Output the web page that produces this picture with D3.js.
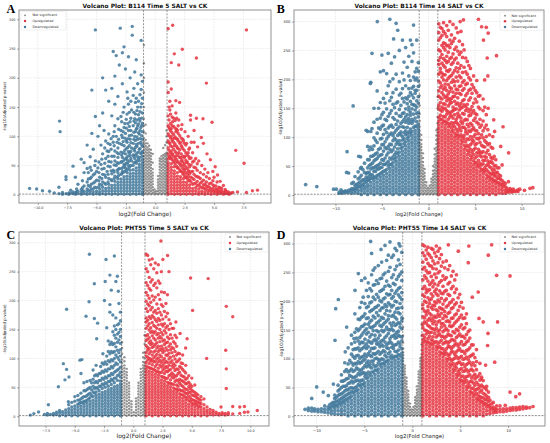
<!DOCTYPE html>
<html>
<head>
<meta charset="utf-8">
<title>Volcano plots</title>
<script src="https://d3js.org/d3.v7.min.js"></script>
<style>
  html, body { margin: 0; padding: 0; background: #fff; }
  svg { display: block; font-family: "DejaVu Sans", sans-serif; }
</style>
</head>
<body>
<svg id="fig" width="550" height="443"></svg>
<script>

// ---- data: each entry is [log2FC, [ -log10 padj values ... ]] ----

var titles = [
  "Volcano Plot: B114 Time 5 SALT vs CK",
  "Volcano Plot: B114 Time 14 SALT vs CK",
  "Volcano Plot: PHT55 Time 5 SALT vs CK",
  "Volcano Plot: PHT55 Time 14 SALT vs CK"
];
var letters = ["A", "B", "C", "D"];
var legendLabels = ["Not significant", "Upregulated", "Downregulated"];
var yTicks = [0, 50, 100, 150, 200, 250, 300];
var xTicksA = [-10, -7.5, -5, -2.5, 0, 2.5, 5, 7.5];
var xTicksB = [-10, -5, 0, 5, 10];
var xTicksC = [-7.5, -5, -2.5, 0, 2.5, 5, 7.5, 10];
var xTicksD = [-10, -5, 0, 5, 10];

var aNs = [
[-0.97,[1,6,11,16,21,26,31,36,41,46,51,56,61,66,71,76,81,86,91,97,108,118,130,150,175,200,225,256]],
[-0.82,[3,8,13,18,23,28,33,38,43,48,53,58,63,68,73,78,83,88,94,105,120]],
[-0.67,[1,6,11,16,21,26,31,36,41,46,51,56,61,66,71,76,81,88]],
[-0.52,[3,8,13,18,23,28,33,38,43,48,53,58,63,68,73,78,84]],
[-0.37,[1,6,11,16,21,26,31,36,41,46,51,56,61,66,71,77]],
[-0.22,[3,8,13,18,23,28,33,38,44,55,70]],
[-0.07,[1,5,9]],
[0.08,[2,6]],
[0.23,[1,6,11,16,21,26,32]],
[0.38,[3,8,13,18,23,28,33,38,43,48,53,58,62]],
[0.53,[1,6,11,16,21,26,31,36,41,46,51,56,61,66]],
[0.68,[3,8,13,18,23,28,33,38,43,48,53,58,63,68,80]],
[0.83,[1,6,11,16,21,26,31,36,41,46,51,56,61,66,70,85]],
[0.96,[3,8,13,18,23,28,33,38,43,48,53,58,63,68,72,90,100,110]]
];
var aUp = [
[1.1,[1,5,10,15,20,25,30,35,40,45,50,55,61,70,80,92,104,118,135,175,193,284]],
[1.17,[65,76,89,101,115,128,150]],
[1.24,[66,88,112,145,160]],
[1.3,[63,72,84,97,109,122,138]],
[1.36,[2,7,12,17,22,27,32,37,42,47,53,62,75,100,113,181,226]],
[1.43,[60,69,82,92,106,118,133,152]],
[1.48,[70,95,125,290]],
[1.56,[56,66,78,90,103,117,131]],
[1.62,[1,6,11,16,21,26,31,36,41,48,58,84,97,241]],
[1.69,[53,62,74,87,99,114,127]],
[1.75,[66,108,140,161]],
[1.82,[49,60,71,83,96,112,131]],
[1.88,[2,7,12,17,22,27,32,38,46,56,80,95,110]],
[1.95,[46,56,67,79,92,105,118]],
[2.0,[72,128,222]],
[2.07,[158]],
[2.08,[43,53,64,77,88,101]],
[2.14,[1,6,11,16,21,26,31,40,52,64,90]],
[2.21,[40,49,58,70,84,97,112]],
[2.27,[60,82,120]],
[2.3,[249]],
[2.34,[36,45,56,66,79,95]],
[2.4,[2,7,12,17,22,28,38,50,92]],
[2.47,[33,42,53,64,76,88]],
[2.53,[44,66,108]],
[2.6,[30,38,48,59,72,85]],
[2.66,[1,6,11,16,21,30,55,88]],
[2.73,[27,35,45,56,68]],
[2.8,[40,72,100]],
[2.86,[24,31,41,52,65,78]],
[2.92,[2,7,12,17,25,36,48,62,80]],
[3.0,[128,136]],
[3.05,[22,30,39,51,63]],
[3.07,[90]],
[3.18,[1,6,11,18,28,40,56,72]],
[3.3,[19,26,35,47,58,90,110]],
[3.44,[2,7,12,20,32,46,62]],
[3.5,[131,234]],
[3.57,[16,23,31,42,53]],
[3.6,[82]],
[3.7,[1,5,10,17,30,58]],
[3.83,[14,20,28,38]],
[3.92,[98]],
[3.96,[2,6,12,22,50]],
[4.06,[130]],
[4.1,[12,17,25,35,88]],
[4.22,[1,5,10,18,44]],
[4.35,[10,15,22,31,191]],
[4.4,[70]],
[4.48,[2,6,14,38]],
[4.6,[8,13,19,28]],
[4.69,[60]],
[4.74,[1,5,10,20]],
[4.83,[124]],
[4.9,[7,11,17,24,40]],
[5.0,[2,6,15,30]],
[5.1,[48]],
[5.15,[6,10,15]],
[5.26,[1,4,9,22]],
[5.3,[34]],
[5.4,[5,8,13]],
[5.52,[2,5,12,23]],
[5.65,[4,7,11]],
[5.8,[1,4,16]],
[5.95,[3,6,9]],
[6.04,[2,6]],
[6.2,[2,5]],
[6.3,[1,3]],
[6.45,[3]],
[6.6,[4]],
[6.85,[76]],
[7.0,[5]],
[7.56,[54]],
[7.76,[4,282]],
[8.27,[7]],
[8.7,[8]]
];
var aDown = [
[-1.1,[1,5,10,15,20,25,30,35,40,45,50,55,60,66,74,83,95,108,122,140,165,194]],
[-1.16,[72,86,101,118,131,156]],
[-1.2,[180,205,264]],
[-1.23,[70,90,115,150]],
[-1.3,[64,79,96,110,126,142,171]],
[-1.36,[2,7,12,17,22,27,32,37,42,47,52,58,78,104,130]],
[-1.43,[61,73,88,106,121,137,160]],
[-1.5,[65,95,118,150,190]],
[-1.56,[58,71,83,99,114,128,144]],
[-1.62,[1,6,11,16,21,26,31,36,41,46,54,86,112,165,231]],
[-1.69,[56,68,81,93,108,123,138,158]],
[-1.75,[62,75,100,130,210]],
[-1.82,[55,66,78,95,107,126,141,182]],
[-1.88,[2,7,12,17,22,27,32,37,43,50,68,88,118,170]],
[-1.96,[273,288]],
[-2.02,[58,80,102,145]],
[-2.08,[50,62,74,89,110,131,160]],
[-2.14,[1,6,11,16,21,26,31,36,42,67,95,125,200]],
[-2.21,[47,58,71,84,101,117,141]],
[-2.28,[50,74,110,155,236]],
[-2.34,[44,55,66,81,96,122,165]],
[-2.4,[2,7,12,17,22,27,32,38,60,90,138,176]],
[-2.47,[42,54,63,79,93,114,129]],
[-2.54,[46,70,105,215]],
[-2.6,[40,50,61,76,97,122]],
[-2.66,[1,6,11,16,21,26,31,52,84,115,150,253]],
[-2.73,[38,47,58,72,91,108,141]],
[-2.8,[40,64,98,190,243]],
[-2.86,[36,45,56,68,86,102,125]],
[-2.92,[2,7,12,17,22,27,35,56,73,110,134]],
[-2.98,[285]],
[-3.06,[45,88,222]],
[-3.12,[33,44,54,70,95,112]],
[-3.18,[1,6,11,16,21,27,38,64,80,130,168]],
[-3.25,[30,42,55,72,90]],
[-3.32,[50,100,238]],
[-3.44,[2,7,12,17,23,32,58,75,118,155,203]],
[-3.5,[28,39,51,66,84,108]],
[-3.58,[42,90,100,245]],
[-3.7,[1,6,11,16,24,36,66,135,182]],
[-3.76,[26,41,56,78,96]],
[-3.84,[48,86]],
[-3.96,[2,7,12,18,28,57,74,104,160]],
[-4.02,[22,35,49,66,88]],
[-4.1,[40,75]],
[-4.22,[1,6,11,18,30,62,92,179]],
[-4.3,[20,34,54,80]],
[-4.36,[45,110]],
[-4.48,[2,7,13,22,35,70,140,200]],
[-4.55,[17,28,44,61]],
[-4.62,[52,85]],
[-4.74,[1,5,10,18,30,118]],
[-4.8,[14,24,38,56]],
[-4.88,[46,100]],
[-5.0,[2,6,12,25,40]],
[-5.1,[58,134,282]],
[-5.15,[13,22,36,50]],
[-5.28,[1,5,10,20,34,78]],
[-5.4,[105,179]],
[-5.45,[10,18,30,42]],
[-5.54,[2,6,14,28,47,65]],
[-5.7,[8,16,27,38]],
[-5.8,[1,5,10,22,45,85]],
[-6.06,[2,6,15,38,55]],
[-6.2,[7,12,24]],
[-6.3,[1,4,9,61]],
[-6.58,[2,6,18]],
[-6.7,[5,10]],
[-6.8,[1,4,30]],
[-7.0,[2,5,49]],
[-7.2,[3,8]],
[-7.36,[1,3]],
[-7.6,[2,26,31]],
[-7.9,[1,4]],
[-8.1,[108]],
[-8.15,[126]],
[-8.2,[2,13]],
[-8.6,[3]],
[-9.0,[6]],
[-9.6,[7]],
[-10.1,[10]],
[-10.7,[11]]
];

var bNs = [
[-0.96,[1,6,11,16,21,26,31,36,41,46,51,56,61,66,71,76,81,86,91,96,101,106,111,118,128,140,155,172,190]],
[-0.78,[3,8,13,18,23,28,33,38,43,48,53,58,63,68,73,78,83,88,95,104]],
[-0.6,[1,6,11,16,21,26,31,36,41,46,51,57,64,72]],
[-0.42,[3,8,13,18,23,28,33,38,45]],
[-0.24,[1,6,11,16,22]],
[-0.06,[3,8,12]],
[0.12,[1,6,11,16]],
[0.3,[3,8,13,18,23,28]],
[0.48,[1,6,11,16,21,26,31,36,42,50]],
[0.66,[3,8,13,18,23,28,33,38,43,48,53,58,63,70,80]],
[0.84,[1,6,11,16,21,26,31,36,41,46,51,56,61,66,71,76,82,88,95,103,112]],
[0.97,[3,8,13,18,23,28,33,38,43,48,53,58,63,68,73,78,83,88,93,98,103,108,115,124,135,150,170]]
];
var bUp = [
[1.1,[1,7,13,19,25,31,37,43,49,55,61,67,73,79,85,91,97,103,109,115,121,127,134,149,155,171,180,197,209,226,233,251,268,281,296]],
[1.27,[131,138,147,160,168,186,194,213,219,238,249,272,290]],
[1.44,[4,10,16,22,28,34,40,46,52,58,64,70,76,82,88,94,100,106,112,118,124,131,145,152,166,177,189,204,211,228,243,259,276,288]],
[1.61,[127,136,149,158,173,183,199,208,224,236,255,263,283,298]],
[1.78,[1,7,13,19,25,31,37,43,49,55,61,67,73,79,85,91,97,103,109,115,121,128,135,150,157,169,186,192,208,221,233,251,262,279]],
[1.95,[125,140,146,163,171,181,198,215,229,240,258,274,293]],
[2.12,[4,10,16,22,28,34,40,46,52,58,64,70,76,82,88,94,100,106,112,118,124,131,144,154,167,175,191,202,214,231,247,259,285]],
[2.29,[121,135,141,158,164,179,186,205,217,236,255,268,300]],
[2.46,[1,7,13,19,25,31,37,43,49,55,61,67,73,79,85,91,97,103,109,116,125,137,144,160,167,184,195,207,226,238,262,277]],
[2.63,[112,121,133,146,152,170,178,199,211,229,244,266,295]],
[2.8,[4,10,16,22,28,34,40,46,52,58,64,70,76,82,88,94,100,107,118,125,139,148,162,171,189,196,215,234,252,271]],
[2.97,[103,114,126,131,149,157,176,183,204,220,237,256,289]],
[3.14,[1,7,13,19,25,31,37,43,49,55,61,67,73,79,85,91,97,104,110,123,135,141,159,168,182,197,213,228,249,281]],
[3.31,[101,115,120,137,147,154,176,188,206,219,243,266]],
[3.4,[300]],
[3.48,[4,10,16,22,28,34,40,46,52,58,64,70,76,82,88,95,104,111,127,133,150,158,174,189,203,224,247,283]],
[3.65,[92,100,117,124,141,152,163,181,195,212,238,260]],
[3.75,[303]],
[3.82,[1,7,13,19,25,31,37,43,49,55,61,67,73,79,86,97,103,117,129,140,156,165,184,198,221,251]],
[3.99,[83,92,109,114,131,146,153,172,191,213,237]],
[4.16,[4,10,16,22,28,34,40,46,52,58,64,70,77,86,97,106,122,130,149,157,176,193,209,231]],
[4.33,[74,83,96,111,118,137,144,164,181,203,224]],
[4.5,[1,7,13,19,25,31,37,43,49,55,61,68,79,87,101,110,124,138,148,168,183,199,219]],
[4.67,[65,74,90,96,113,121,142,153,176,191]],
[4.84,[4,10,16,22,28,34,40,46,52,59,70,78,93,101,116,129,146,159,186,206]],
[5.01,[56,64,81,87,105,112,133,141,166,181]],
[5.18,[1,7,13,19,25,31,37,43,49,55,67,73,89,98,111,126,139,161,177,198]],
[5.36,[51,60,73,79,97,106,123,152,171,304]],
[5.52,[4,10,16,22,28,34,40,47,55,68,75,91,99,117,131,149,172]],
[5.7,[44,52,66,73,86,104,121,291]],
[5.86,[1,7,13,19,25,31,37,43,54,60,75,84,99,111,128,146,166]],
[5.9,[268]],
[6.03,[41,47,60,67,83,94,116,152,199]],
[6.2,[4,10,16,22,28,35,44,51,65,73,91,101,121,139,290]],
[6.3,[237]],
[6.37,[32,41,53,59,77,87,113,206]],
[6.4,[150,280]],
[6.54,[1,7,13,19,25,31,38,49,56,70,89,104]],
[6.71,[29,36,47,58,65,83]],
[6.88,[4,10,16,22,27,37,43,55,63,81]],
[6.9,[101]],
[7.0,[37,130]],
[7.05,[25,33,44,50,67]],
[7.1,[110]],
[7.22,[1,7,13,19,24,33,39,51,61]],
[7.3,[241]],
[7.39,[22,29,39,47]],
[7.56,[4,10,16,21,29,35,47]],
[7.73,[19,27,33]],
[7.75,[84]],
[7.9,[3,8,13,18,25,52]],
[8.0,[118]],
[8.07,[16,22]],
[8.24,[3,8,14,20]],
[8.41,[6,12]],
[8.58,[5,9,23]],
[8.6,[73]],
[8.75,[7,11]],
[8.92,[5,9]],
[9.1,[6,10]],
[9.26,[6]],
[9.43,[7]],
[9.6,[6,9]],
[9.8,[10]],
[10.3,[8]],
[10.9,[11.5]],
[11.2,[12.7]]
];
var bDown = [
[-1.1,[1,7,13,19,25,31,37,43,49,55,61,67,73,79,85,91,97,103,109,115,122,135,143,159,170,188,197,214,229]],
[-1.27,[119,127,141,152,163,181,202,219,268]],
[-1.44,[4,10,16,22,28,34,40,46,52,58,64,70,76,82,88,94,100,106,112,119,133,147,155,176,181,199,213]],
[-1.61,[117,128,140,156,168,188,204,246,294]],
[-1.78,[1,7,13,19,25,31,37,43,49,55,61,67,73,79,85,91,97,103,110,124,131,149,157,173,185,231,260]],
[-1.95,[107,114,127,138,143,162,177,198,268]],
[-2.12,[4,10,16,22,28,34,40,46,52,58,64,70,76,82,88,94,101,109,124,132,147,152,171,184,206,240]],
[-2.29,[98,106,117,129,139,158,166,221]],
[-2.46,[1,7,13,19,25,31,37,43,49,55,61,67,73,79,85,92,104,111,126,135,149,168,189,255]],
[-2.63,[89,97,108,117,131,142,161,199,230]],
[-2.8,[4,10,16,22,28,34,40,46,52,58,64,70,76,83,95,101,118,127,141,167,184,211,268]],
[-2.97,[81,88,104,109,124,136,155,176]],
[-3.14,[1,7,13,19,25,31,37,43,49,55,61,67,74,87,94,106,118,137,148,173,196,250]],
[-3.31,[71,80,91,103,115,128,161,285]],
[-3.48,[4,10,16,22,28,34,40,46,52,58,65,74,88,95,112,122,141,159,183,209,297]],
[-3.65,[62,70,83,98,108,131,151,239]],
[-3.75,[270]],
[-3.82,[1,7,13,19,25,31,37,43,49,56,66,78,94,103,117,134,157,177,201]],
[-3.99,[53,62,75,87,107,121,146,169,228]],
[-4.16,[4,10,16,22,28,34,40,46,53,64,79,88,105,119,141,163,196,304]],
[-4.33,[50,58,73,84,101,116,136,189,245]],
[-4.5,[1,7,13,19,25,31,37,44,55,69,80,97,108,129,149,176,210]],
[-4.67,[42,53,64,82,92,113,131,159]],
[-4.84,[4,10,16,22,28,34,41,53,60,76,87,105,121,143,167,215]],
[-5.01,[39,48,61,70,87,98,119,139,242]],
[-5.18,[1,7,13,19,25,31,37,47,55,69,81,97,114,133,160,213]],
[-5.36,[35,45,52,67,79,116,150]],
[-5.5,[300]],
[-5.52,[4,10,16,22,28,34,45,51,63,73,91,107,131,180]],
[-5.7,[31,41,49,61,71,95]],
[-5.86,[1,7,13,19,25,31,41,47,59,69,85,99,126,150]],
[-6.03,[29,35,47,55,67,79]],
[-6.07,[115,245]],
[-6.2,[4,10,16,22,29,35,45,53,67,83,110,195]],
[-6.25,[193]],
[-6.37,[26,33,39,51,61,78]],
[-6.54,[1,7,13,18,25,29,39,47,61,84,110]],
[-6.7,[23,31,37,112]],
[-6.88,[4,10,15,21,27,39,55]],
[-7.05,[18,26,44]],
[-7.22,[1,7,12,17,24,34,48]],
[-7.3,[46,66]],
[-7.39,[15,22,30]],
[-7.5,[67]],
[-7.56,[3,8,14,20,28,40]],
[-7.73,[12,18]],
[-7.9,[4,8,12,17,32]],
[-8.07,[10,22]],
[-8.1,[154]],
[-8.24,[3,7,11,20]],
[-8.41,[9]],
[-8.58,[4,8,38]],
[-8.75,[6,75]],
[-8.8,[39]],
[-8.92,[4,7]],
[-9.1,[6]],
[-9.26,[3,6]],
[-9.4,[5,9]],
[-9.6,[3,5]],
[-9.9,[10]],
[-10.2,[10]],
[-12,[14.5]],
[-13.2,[18]]
];

var cNs = [
[-0.96,[1,6,11,16,21,26,31,36,41,46,51,56,61,66,71,76,81,86,92,98,108,118,128]],
[-0.76,[3,8,13,18,23,28,33,38,43,48,53,58,63,68,73,78,83,88,95,102]],
[-0.56,[1,6,11,16,21,26,31,36,41,46,51,56,61,66,71,76,82]],
[-0.36,[3,8,13,18,23,28,33,38,43,48,53,58]],
[-0.16,[1,6,11,16,21,26]],
[0.04,[2,7]],
[0.24,[1,6,11,16,21,26,31]],
[0.44,[3,8,13,18,23,28,33,38,43,48,53,58]],
[0.64,[1,6,11,16,21,26,31,36,41,46,51,56,61,66,71,76,82]],
[0.84,[3,8,13,18,23,28,33,38,43,48,53,58,63,68,73,78,83,88,94,102,110]],
[0.97,[1,6,11,16,21,26,31,36,41,46,51,56,61,66,71,76,81,86,92,100,110,125,140]]
];
var cUp = [
[1.1,[1,6,11,16,21,26,31,36,41,46,51,56,61,66,71,76,81,87,93,104,110,122,131,139,152,163,170,186,199,214,231,255,280]],
[1.23,[85,97,102,114,119,133,141,156,166,181,194,209,226,250,278]],
[1.36,[3,8,13,18,23,28,33,38,43,48,53,58,63,68,73,78,84,91,100,108,117,127,136,149,160,172,191,204,221,240,270]],
[1.49,[83,95,99,112,124,130,145,153,169,184,197,218,232,262]],
[1.62,[1,6,11,16,21,26,31,36,41,46,51,56,61,66,71,76,82,89,97,106,119,126,139,147,162,174,188,208,236,272]],
[1.75,[81,94,101,111,121,135,144,157,171,180,201,226,255]],
[1.88,[3,8,13,18,23,28,33,38,43,48,53,58,63,68,73,79,86,95,104,113,124,132,146,155,167,183,206,230,265]],
[2.01,[77,90,99,107,118,127,141,152,164,178,194,222,248]],
[2.14,[1,6,11,16,21,26,31,36,41,46,51,56,61,66,71,77,83,94,101,112,121,135,143,158,169,186,210,234,262]],
[2.27,[75,88,97,106,116,129,138,150,166,180,202,230]],
[2.36,[303]],
[2.4,[3,8,13,18,23,28,33,38,43,48,53,58,63,69,76,85,93,103,114,121,135,145,159,175,193,215,250]],
[2.53,[68,80,88,97,110,117,130,141,156,168,190,271]],
[2.66,[1,6,11,16,21,26,31,36,41,46,51,56,61,67,74,83,92,100,113,124,132,148,160,181,214]],
[2.79,[65,78,86,95,106,118,127,144,153,172,195]],
[2.92,[3,8,13,18,23,28,33,38,43,48,53,59,66,77,84,93,105,114,128,137,156,178,210]],
[2.93,[278]],
[3.05,[57,70,79,88,99,109,121,134,150,167,250]],
[3.18,[1,6,11,16,21,26,31,36,41,46,51,57,63,72,81,93,102,115,125,141,160]],
[3.31,[56,68,75,87,96,110,119,135,152]],
[3.44,[3,8,13,18,23,28,33,38,43,49,55,66,72,84,91,104,117,129,152]],
[3.57,[47,60,69,79,88,99,112,126,140]],
[3.64,[163]],
[3.7,[1,6,11,16,21,26,31,36,41,47,54,63,70,82,94,106,121,136]],
[3.83,[45,52,61,74,81,96,109]],
[3.96,[3,8,13,18,23,28,33,39,46,57,64,76,86,99,108]],
[4.0,[143]],
[4.09,[37,44,54,62,71,84,92]],
[4.22,[1,6,11,16,21,26,31,37,44,52,61,69,81,91,106]],
[4.35,[35,42,49,59,68,78]],
[4.47,[118]],
[4.48,[3,8,13,18,23,28,33,40,47,56,64,75,88]],
[4.6,[134]],
[4.61,[31,39,46,57,66]],
[4.74,[1,6,11,16,21,27,35,42,51,59,70]],
[4.87,[26,32,41,48,55]],
[4.9,[239]],
[5.0,[3,8,13,18,23,29,37,45,52,66]],
[5.07,[183]],
[5.13,[21,28,36,43]],
[5.26,[1,6,11,16,22,27,35,41,54]],
[5.39,[20,26,33,39]],
[5.52,[3,8,13,18,24,31,37]],
[5.65,[17,23,29]],
[5.78,[1,6,11,16,22,28,34]],
[6.04,[3,8,13,20,30]],
[6.27,[100]],
[6.3,[1,6,10,16]],
[6.4,[238]],
[6.56,[3,7,12]],
[6.82,[2,6,10]],
[7.08,[3,7]],
[7.34,[2,5]],
[7.5,[16]],
[7.6,[3,6]],
[7.86,[2,5]],
[7.9,[114]],
[7.95,[48,82,190]],
[8.12,[3,6]],
[8.5,[4,17,172]],
[9.1,[5,16]],
[9.5,[7,17]],
[9.8,[7.5]],
[10.6,[10]]
];
var cDown = [
[-1.1,[1,6,11,16,21,26,31,36,41,46,51,56,61,68,76,85,94,104,115,126,138,150,165,180]],
[-1.23,[72,82,98,110,132,145,160,195]],
[-1.28,[216]],
[-1.36,[3,8,13,18,23,28,33,38,43,48,53,62,70,80,90,102,114,128,142,158,242]],
[-1.49,[66,78,92,106,120,135,150,170,233]],
[-1.62,[1,6,11,16,21,26,31,36,41,46,51,58,66,76,88,100,112,126,140,156,277]],
[-1.75,[62,72,84,96,110,124,146,175]],
[-1.88,[3,8,13,18,23,28,33,38,43,48,55,64,74,86,98,112,128,218]],
[-2.0,[60,70,82,94,108,124,180,193,244]],
[-2.14,[1,6,11,16,21,26,31,36,41,46,52,60,70,82,96,112,130]],
[-2.27,[56,66,78,90,104,153]],
[-2.33,[271]],
[-2.4,[3,8,13,18,23,28,33,38,43,50,58,68,80,94,233]],
[-2.47,[200]],
[-2.53,[54,64,76,90]],
[-2.6,[108]],
[-2.66,[1,6,11,16,21,26,31,36,41,48,56,66,78,92]],
[-2.79,[52,62,74,86]],
[-2.92,[3,8,13,18,23,28,33,38,44,52,62,74]],
[-3.05,[48,58,70,161]],
[-3.13,[134]],
[-3.18,[1,6,11,16,21,26,31,36,42,50,60,72,88]],
[-3.31,[40,48,58,70]],
[-3.33,[169,229]],
[-3.44,[3,8,13,18,23,28,34,42,52,64,80]],
[-3.57,[36,46,58]],
[-3.7,[1,6,11,16,21,26,32,40,50,62]],
[-3.75,[280]],
[-3.78,[198]],
[-3.83,[30,38,48]],
[-3.96,[3,8,13,18,23,28,36,46,60]],
[-4.04,[173]],
[-4.09,[26,34,44]],
[-4.22,[1,6,11,16,21,26,34,44,58]],
[-4.35,[24,32]],
[-4.4,[98]],
[-4.47,[74]],
[-4.48,[3,8,13,18,24,30,40]],
[-4.56,[97]],
[-4.61,[22,28]],
[-4.74,[1,6,11,16,21,28,36]],
[-5.0,[3,8,13,18,26,34]],
[-5.26,[1,6,11,16,24]],
[-5.5,[68]],
[-5.52,[3,8,13,20]],
[-5.55,[25]],
[-5.7,[81,185]],
[-5.78,[1,6,11]],
[-5.84,[63]],
[-5.98,[91]],
[-6.04,[3,8]],
[-6.3,[1,6,10]],
[-6.4,[51]],
[-6.56,[3,7]],
[-6.82,[2,5]],
[-7.08,[3]],
[-7.26,[20]],
[-7.34,[2,5]],
[-7.6,[3]],
[-8.1,[7.5]],
[-8.5,[4.6]],
[-8.8,[2]]
];

var dNs = [
[-0.96,[1,6,11,16,21,26,31,36,41,46,51,56,61,66,71,76,81,86,91,96,101,106,111,118,128,140,155,170]],
[-0.78,[3,8,13,18,23,28,33,38,43,48,53,58,63,68,73,78,83,88]],
[-0.6,[1,6,11,16,21,26,31,36,41,46,51,56,61,67]],
[-0.42,[3,8,13,18,23,28,33,38,44]],
[-0.24,[1,6,11,16,22]],
[-0.06,[3,8,12]],
[0.12,[1,6,11,16]],
[0.3,[3,8,13,18,23,28,33]],
[0.48,[1,6,11,16,21,26,31,36,41,46,52]],
[0.66,[3,8,13,18,23,28,33,38,43,48,53,58,63,68,73,78]],
[0.84,[1,6,11,16,21,26,31,36,41,46,51,56,61,66,71,76,81,86,91,96,101]],
[0.97,[3,8,13,18,23,28,33,38,43,48,53,58,63,68,73,78,83,88,93,98,103,108,115,125,140,160]]
];
var dUp = [
[1.1,[1,7,13,19,25,31,37,43,49,55,61,67,73,79,85,91,97,103,109,115,121,127,133,141,154,160,173,187,194,211,222,237,256,268,284,298]],
[1.28,[131,137,150,164,171,183,200,208,226,244,259,279,296]],
[1.45,[4,10,16,22,28,34,40,46,52,58,64,70,76,82,88,94,100,106,112,118,124,130,143,149,162,176,181,198,215,221,240,253,273,289]],
[1.63,[129,135,147,158,167,184,191,206,218,235,249,266,283,294]],
[1.8,[1,7,13,19,25,31,37,43,49,55,61,67,73,79,85,91,97,103,109,115,121,127,139,145,156,170,179,196,202,220,229,250,262,280]],
[1.98,[126,133,146,153,166,176,189,204,213,232,243,261,276,292]],
[2.15,[4,10,16,22,28,34,40,46,52,58,64,70,76,82,88,94,100,106,112,118,124,131,138,152,161,170,186,193,209,225,236,257,270,290]],
[2.33,[128,144,150,165,174,192,199,217,230,247,265,284]],
[2.5,[1,7,13,19,25,31,37,43,49,55,61,67,73,79,85,91,97,103,109,115,121,130,138,153,159,172,185,197,213,221,241,256,278,296]],
[2.68,[119,126,141,148,164,177,183,202,210,228,249,267,287]],
[2.85,[4,10,16,22,28,34,40,46,52,58,64,70,76,82,88,94,100,106,112,121,129,143,150,166,174,189,199,218,233,252,274,292]],
[3.03,[110,118,132,139,155,161,179,187,205,214,236,261,281]],
[3.2,[1,7,13,19,25,31,37,43,49,55,61,67,73,79,85,91,97,103,109,117,126,139,147,161,170,186,195,213,226,244,268]],
[3.38,[107,113,128,136,150,157,175,182,201,217,238,258]],
[3.55,[4,10,16,22,28,34,40,46,52,58,64,70,76,82,88,94,100,110,117,130,139,152,165,173,190,204,219,241,270]],
[3.73,[98,106,121,127,143,149,166,179,193,212,230,255]],
[3.76,[298]],
[3.9,[1,7,13,19,25,31,37,43,49,55,61,67,73,79,85,91,101,108,121,130,141,157,164,181,197,210,233,262]],
[4.08,[89,97,112,118,133,140,156,170,187,199,222,244]],
[4.25,[4,10,16,22,28,34,40,46,52,58,64,70,76,82,92,99,112,121,133,147,158,171,189,203,226,252]],
[4.43,[80,87,101,108,124,131,145,162,176,194,215,237]],
[4.6,[1,7,13,19,25,31,37,43,49,55,61,67,73,84,91,104,112,126,137,151,165,178,197,221,246]],
[4.78,[71,78,93,100,115,122,140,149,168,184,206]],
[4.8,[287]],
[4.95,[4,10,16,22,28,34,40,46,52,58,64,74,81,94,102,117,126,143,155,172,191,212]],
[5.13,[62,69,83,90,104,113,130,139,159,176,198]],
[5.3,[1,7,13,19,25,31,37,43,49,55,61,70,78,91,99,113,124,139,152,170,188]],
[5.48,[59,66,79,86,100,109,125,136,154,171]],
[5.65,[4,10,16,22,28,34,40,46,52,62,69,81,90,103,114,129,142,161,178]],
[5.83,[50,57,70,77,92,99,116,131,147]],
[5.84,[267]],
[5.9,[296]],
[6.0,[1,7,13,19,25,31,37,43,53,60,72,80,94,104,119,136,150]],
[6.18,[41,48,61,67,82,89,106,124]],
[6.26,[207]],
[6.35,[4,10,16,22,28,34,40,49,58,70,79,93,108,124]],
[6.53,[37,45,54,65,73,88,102]],
[6.7,[1,7,13,19,25,31,40,47,59,68,81,95,116]],
[6.88,[29,36,48,55,70,216]],
[6.96,[170]],
[7.05,[4,10,16,22,28,34,42,51,63,74,92]],
[7.2,[65]],
[7.23,[26,33,45,54,68]],
[7.4,[1,7,13,19,24,32,40,51,62,164]],
[7.58,[22,29,38,49]],
[7.65,[89]],
[7.75,[4,10,16,21,29,35,46,52]],
[7.86,[123]],
[7.9,[144]],
[7.93,[280]],
[7.95,[18,26,33,42]],
[8.1,[5,10,15,20,28]],
[8.28,[298]],
[8.3,[14,22]],
[8.45,[6,11,16,24]],
[8.6,[94]],
[8.65,[8,13]],
[8.8,[7,12,18,245]],
[8.9,[164]],
[9.15,[8,12,18]],
[9.5,[8,13]],
[9.7,[19]],
[9.85,[9,13]],
[10.2,[10,14,42,244]],
[10.5,[11,15]],
[10.8,[34]],
[10.85,[11,15]],
[11.2,[12,16,39]],
[11.55,[13,17]],
[11.9,[14,16]],
[12.25,[15]],
[12.6,[17]]
];
var dDown = [
[-1.1,[1,7,13,19,25,31,37,43,49,55,61,67,73,79,85,91,97,103,110,117,131,138,152,166,171,189,203,215,236,251,285]],
[-1.28,[106,121,126,139,155,161,178,196,207,224,247,264,296]],
[-1.39,[300]],
[-1.45,[4,10,16,22,28,34,40,46,52,58,64,70,76,82,88,94,100,107,115,129,141,148,163,180,188,211,222,243,272]],
[-1.63,[104,112,125,137,146,160,169,187,199,218,238,261,288]],
[-1.8,[1,7,13,19,25,31,37,43,49,55,61,67,73,79,85,91,97,104,113,124,136,142,158,172,181,200,214,229,255,292]],
[-1.98,[102,118,123,140,149,163,176,193,208,231,246,280]],
[-2.15,[4,10,16,22,28,34,40,46,52,58,64,70,76,82,88,94,100,106,120,127,139,152,158,174,190,205,219,241,276]],
[-2.33,[103,112,130,135,150,162,183,194,212,226,259,303]],
[-2.5,[1,7,13,19,25,31,37,43,49,55,61,67,73,79,85,91,97,109,118,127,144,151,169,175,197,211,228,252,280]],
[-2.68,[96,103,119,124,140,155,166,184,191,213,235,271]],
[-2.85,[4,10,16,22,28,34,40,46,52,58,64,70,76,82,88,94,106,112,129,137,150,163,178,194,206,226,249,297]],
[-3.03,[92,99,114,122,133,147,160,170,189,204,221,246]],
[-3.2,[1,7,13,19,25,31,37,43,49,55,61,67,73,79,85,91,100,111,124,131,149,156,172,188,199,219,240,268]],
[-3.27,[290]],
[-3.38,[89,97,108,121,129,141,158,167,184,201,217,239]],
[-3.55,[4,10,16,22,28,34,40,46,52,58,64,70,76,82,93,99,113,125,136,147,164,175,193,207,231,262]],
[-3.73,[80,88,101,110,126,131,149,162,180,190,212,236]],
[-3.9,[1,7,13,19,25,31,37,43,49,55,61,67,73,80,86,100,108,119,134,141,158,171,189,203,229,258]],
[-4.08,[77,90,96,109,118,131,149,156,174,186,207,228,254]],
[-4.25,[4,10,16,22,28,34,40,46,52,58,64,70,77,84,96,104,118,127,142,154,167,184,199,218,246,283]],
[-4.35,[304]],
[-4.43,[73,86,91,106,113,129,138,155,164,182,197,222]],
[-4.6,[1,7,13,19,25,31,37,43,49,55,61,68,77,89,96,109,121,131,146,160,171,191,208,232]],
[-4.78,[66,73,86,93,104,118,126,143,152,170,189,219]],
[-4.95,[4,10,16,22,28,34,40,46,52,58,69,75,88,99,108,122,134,149,160,178,196,240]],
[-5.13,[56,63,76,84,97,104,119,128,145,157,174,207]],
[-5.3,[1,7,13,19,25,31,37,43,49,55,63,74,81,94,103,117,129,141,156,172,198,236]],
[-5.48,[53,60,72,79,92,101,114,126,137,152,168,189]],
[-5.63,[248]],
[-5.65,[4,10,16,22,28,34,40,46,55,63,74,82,95,106,119,131,149,169]],
[-5.83,[45,51,62,70,84,91,105,117,136,152]],
[-5.98,[219]],
[-6.0,[1,7,13,19,25,31,37,43,50,61,68,80,92,101,117,129,146,178]],
[-6.09,[135]],
[-6.18,[41,48,58,67,78,89,104,116]],
[-6.35,[4,10,16,22,28,35,43,50,61,69,82,93,108,126,141]],
[-6.53,[33,40,49,58,71,79,97]],
[-6.7,[1,7,13,19,25,31,39,46,57,66,77,91,119]],
[-6.85,[155]],
[-6.88,[29,37,46,53,65,81]],
[-7.0,[112]],
[-7.05,[4,10,16,22,28,35,44,52,63,78,93]],
[-7.23,[26,33,41,52,61]],
[-7.4,[3,8,13,19,24,31,39,50,61,72]],
[-7.58,[23,29,38,47]],
[-7.72,[203]],
[-7.75,[4,10,16,21,27,36,44,54]],
[-7.93,[19,26,33]],
[-8.0,[187]],
[-8.07,[132]],
[-8.1,[4,9,14,19,24,31,37]],
[-8.24,[56]],
[-8.28,[18,24]],
[-8.45,[5,10,16,22]],
[-8.63,[14,20]],
[-8.77,[36]],
[-8.8,[6,11,16]],
[-9.15,[7,12,18]],
[-9.3,[42]],
[-9.5,[8,13]],
[-9.85,[8,12]],
[-9.98,[51]],
[-10.2,[9,13]],
[-10.5,[9,14,31]],
[-10.85,[10,14]],
[-11.2,[12]]
];

// ---- layout ----
var colNs = "#808080", colUp = "#e63946", colDown = "#457b9d";

var panels = [
  {ns: aNs, up: aUp, down: aDown, box: [19, 271, 10, 203], xDom: [-11.6, 9.85], yDom: [-14, 316],
   xTicks: xTicksA, fmt: ".1f", tickSize: 3.4, r: 1.7, yLabX: 5, yLabSize: 4, xLabY: 215.5, xLabSize: 5.8,
   titleY: 8.3, letterXY: [6.5, 12.7], leg: {x: 21, y: 11.5, w: 45, mx: 25, tx: 32.5, rows: [15.3, 21, 27]}},
  {ns: bNs, up: bUp, down: bDown, box: [294, 544, 10, 204], xDom: [-14.45, 12.4], yDom: [-15.6, 320],
   xTicks: xTicksB, fmt: "d", tickSize: 3.8, r: 1.85, yLabX: 280, yLabSize: 4.6, xLabY: 215.5, xLabSize: 5.2,
   titleY: 8.3, letterXY: [276.7, 12.7], leg: {x: 500, y: 11.8, w: 43, mx: 505, tx: 511.5, rows: [15.7, 21.3, 27]}},
  {ns: cNs, up: cUp, down: cDown, box: [19, 269, 232, 426], xDom: [-9.77, 11.6], yDom: [-16.8, 318.5],
   xTicks: xTicksC, fmt: ".1f", tickSize: 3.4, r: 1.7, yLabX: 5, yLabSize: 4, xLabY: 438, xLabSize: 6,
   titleY: 230.3, letterXY: [6.5, 238.7], leg: {x: 225, y: 233.5, w: 43, mx: 230, tx: 236.5, rows: [237, 243, 249]}},
  {ns: dNs, up: dUp, down: dDown, box: [294, 545, 232, 426], xDom: [-12.35, 13.85], yDom: [-16.9, 320.3],
   xTicks: xTicksD, fmt: "d", tickSize: 3.8, r: 1.85, yLabX: 281, yLabSize: 4.6, xLabY: 437.5, xLabSize: 5.4,
   titleY: 230.3, letterXY: [276.7, 238.7], leg: {x: 500, y: 233.5, w: 44, mx: 505, tx: 511.5, rows: [237, 243, 249]}}
];

var svg = d3.select("#fig");

function expand(cols) {
  var pts = [];
  cols.forEach(function(c) {
    c[1].forEach(function(v) { pts.push([c[0], v]); });
  });
  return pts;
}

panels.forEach(function(p, i) {
  var x = d3.scaleLinear().domain(p.xDom).range([p.box[0], p.box[1]]);
  var y = d3.scaleLinear().domain(p.yDom).range([p.box[3], p.box[2]]);
  var g = svg.append("g");

  g.append("clipPath").attr("id", "clip" + i)
    .append("rect")
    .attr("x", p.box[0]).attr("y", p.box[2])
    .attr("width", p.box[1] - p.box[0]).attr("height", p.box[3] - p.box[2]);

  // grid
  var grid = g.append("g").attr("stroke", "#d4d4d4").attr("stroke-width", 0.45)
    .attr("stroke-dasharray", "1.6,1.2");
  grid.selectAll(".gx").data(p.xTicks).enter().append("line")
    .attr("x1", function(d) { return x(d); }).attr("x2", function(d) { return x(d); })
    .attr("y1", p.box[2]).attr("y2", p.box[3]);
  grid.selectAll(".gy").data(yTicks).enter().append("line")
    .attr("y1", function(d) { return y(d); }).attr("y2", function(d) { return y(d); })
    .attr("x1", p.box[0]).attr("x2", p.box[1]);

  var plot = g.append("g").attr("clip-path", "url(#clip" + i + ")");

  plot.append("g").selectAll("circle").data(expand(p.ns)).enter().append("circle")
    .attr("cx", function(d) { return x(d[0]); })
    .attr("cy", function(d) { return y(d[1]); })
    .attr("r", 1.2)
    .attr("fill", colNs).attr("fill-opacity", 0.85);

  plot.append("g").selectAll("circle").data(expand(p.up)).enter().append("circle")
    .attr("cx", function(d) { return x(d[0]); })
    .attr("cy", function(d) { return y(d[1]); })
    .attr("r", p.r)
    .attr("fill", colUp).attr("fill-opacity", 0.88);

  plot.append("g").selectAll("circle").data(expand(p.down)).enter().append("circle")
    .attr("cx", function(d) { return x(d[0]); })
    .attr("cy", function(d) { return y(d[1]); })
    .attr("r", p.r)
    .attr("fill", colDown).attr("fill-opacity", 0.88);

  // thresholds
  var th = g.append("g").attr("stroke", "#333").attr("stroke-width", 0.6)
    .attr("stroke-dasharray", "2,1.3").attr("opacity", 0.85);
  [-1, 1].forEach(function(v) {
    th.append("line").attr("x1", x(v)).attr("x2", x(v)).attr("y1", p.box[2]).attr("y2", p.box[3]);
  });
  th.append("line").attr("x1", p.box[0]).attr("x2", p.box[1])
    .attr("y1", y(-Math.log10(0.05))).attr("y2", y(-Math.log10(0.05)));

  // frame
  g.append("rect")
    .attr("x", p.box[0]).attr("y", p.box[2])
    .attr("width", p.box[1] - p.box[0]).attr("height", p.box[3] - p.box[2])
    .attr("fill", "none").attr("stroke", "#777").attr("stroke-width", 0.8);

  // axes
  var xa = g.append("g").attr("transform", "translate(0," + p.box[3] + ")")
    .call(d3.axisBottom(x).tickValues(p.xTicks).tickFormat(d3.format(p.fmt)).tickSize(2).tickPadding(1.5));
  var ya = g.append("g").attr("transform", "translate(" + p.box[0] + ",0)")
    .call(d3.axisLeft(y).tickValues(yTicks).tickFormat(d3.format("d")).tickSize(2).tickPadding(1.5));
  [xa, ya].forEach(function(a) {
    a.select(".domain").remove();
    a.selectAll("line").attr("stroke", "#555").attr("stroke-width", 0.5);
    a.selectAll("text").attr("font-size", p.tickSize).attr("fill", "#333")
      .attr("font-family", "DejaVu Sans, sans-serif");
  });

  // labels
  g.append("text").attr("x", (p.box[0] + p.box[1]) / 2).attr("y", p.titleY)
    .attr("text-anchor", "middle").attr("font-weight", "bold").attr("font-size", 5.9)
    .attr("fill", "#111").text(titles[i]);

  g.append("text").attr("x", (p.box[0] + p.box[1]) / 2).attr("y", p.xLabY)
    .attr("text-anchor", "middle").attr("font-size", p.xLabSize).attr("fill", "#222")
    .text("log2(Fold Change)");

  g.append("text")
    .attr("transform", "translate(" + p.yLabX + "," + (p.box[2] + p.box[3]) / 2 + ") rotate(-90)")
    .attr("text-anchor", "middle").attr("dy", "0.35em").attr("font-size", p.yLabSize).attr("fill", "#222")
    .text("-log10(Adjusted p-value)");

  g.append("text").attr("x", p.letterXY[0]).attr("y", p.letterXY[1])
    .attr("font-family", "Liberation Serif, DejaVu Serif, serif").attr("font-weight", "bold")
    .attr("font-size", 12).attr("fill", "#000").text(letters[i]);

  // legend
  var L = p.leg;
  var lg = g.append("g");
  lg.append("rect").attr("x", L.x).attr("y", L.y).attr("width", L.w).attr("height", 18.5)
    .attr("rx", 1).attr("fill", "#fff").attr("fill-opacity", 0.85)
    .attr("stroke", "#dcdcdc").attr("stroke-width", 0.4);
  var legCols = [colNs, colUp, colDown];
  var legR = [0.9, 1.25, 1.25];
  legendLabels.forEach(function(t, k) {
    lg.append("circle").attr("cx", L.mx).attr("cy", L.rows[k]).attr("r", legR[k]).attr("fill", legCols[k]);
    lg.append("text").attr("x", L.tx).attr("y", L.rows[k]).attr("dy", "0.35em")
      .attr("font-size", 3.4).attr("fill", "#333").text(t);
  });
});
</script>
</body>
</html>
